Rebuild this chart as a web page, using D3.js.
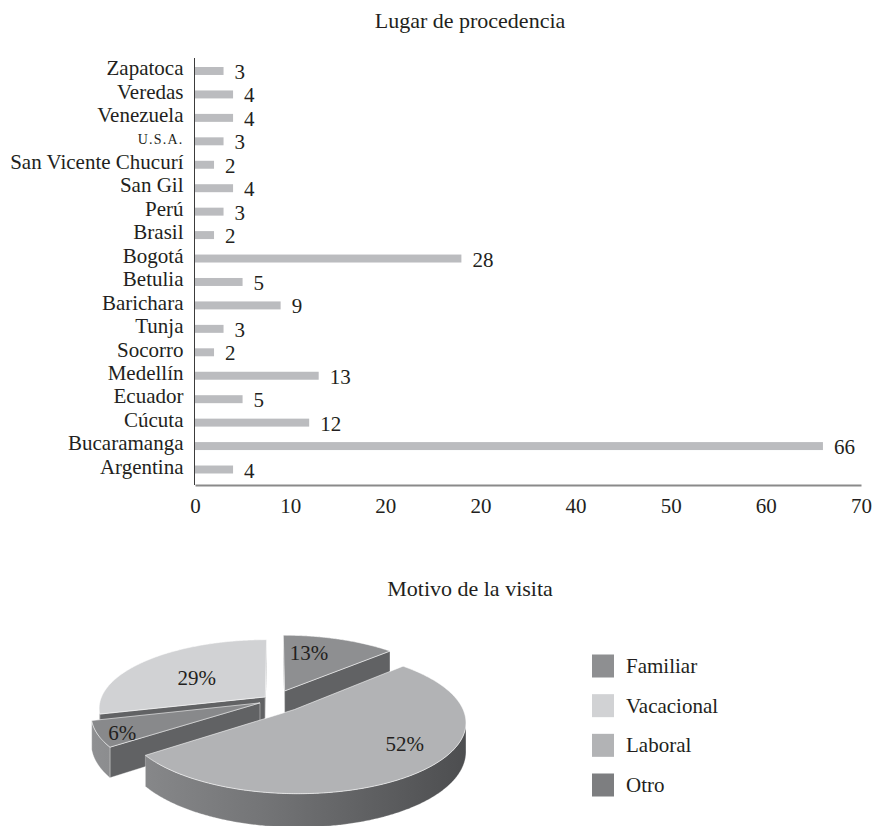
<!DOCTYPE html>
<html>
<head>
<meta charset="utf-8">
<script src="https://cdn.jsdelivr.net/npm/d3@7"></script>
<style>
  html, body { margin: 0; padding: 0; background: #ffffff; }
  svg { display: block; font-family: "Liberation Serif", "Times New Roman", serif; }
</style>
</head>
<body>
<svg id="chart" width="873" height="826"></svg>
<script>
// ---- Lugar de procedencia (bar chart) ----
const places = ["Argentina", "Bucaramanga", "Cúcuta", "Ecuador", "Medellín", "Socorro", "Tunja",
  "Barichara", "Betulia", "Bogotá", "Brasil", "Perú", "San Gil", "San Vicente Chucurí",
  "U.S.A.", "Venezuela", "Veredas", "Zapatoca"];
const visitors = [4, 66, 12, 5, 13, 2, 3, 9, 5, 28, 2, 3, 4, 2, 3, 4, 4, 3];
const xTickValues = [0, 10, 20, 30, 40, 50, 60, 70];
const xTickLabels = ["0", "10", "20", "20", "40", "50", "60", "70"];

// ---- Motivo de la visita (pie chart) ----
const motives = ["Familiar", "Vacacional", "Laboral", "Otro"];
const motiveShares = [13, 29, 52, 6];
// clockwise order of the slices, starting at twelve o'clock
const sliceOrder = ["Familiar", "Laboral", "Otro", "Vacacional"];

const textColor = "#231f20";
const svg = d3.select("#chart");

// ================= bar chart =================
const x = d3.scaleLinear().domain([0, 70]).range([195, 861]);
const y = d3.scaleBand()
  .domain(places.slice().reverse())
  .range([58.8, 481.7])
  .paddingInner(0.66)
  .paddingOuter(0.35);

svg.append("text")
  .attr("x", 470).attr("y", 28)
  .attr("text-anchor", "middle")
  .attr("font-size", 22)
  .attr("fill", textColor)
  .text("Lugar de procedencia");

const rows = places.map((p, i) => ({ place: p, value: visitors[i] }));

svg.append("g").selectAll("rect")
  .data(rows)
  .join("rect")
  .attr("x", x(0))
  .attr("y", d => y(d.place))
  .attr("width", d => x(d.value) - x(0))
  .attr("height", y.bandwidth())
  .attr("fill", "#bbbcbf");

svg.append("g").selectAll("text")
  .data(rows)
  .join("text")
  .attr("x", d => x(d.value) + 11)
  .attr("y", d => y(d.place) + y.bandwidth() / 2 + 8)
  .attr("font-size", 21)
  .attr("fill", textColor)
  .text(d => d.value);

// category axis
const yAxis = svg.append("g")
  .attr("transform", `translate(${x(0) - 0.5},0)`)
  .call(d3.axisLeft(y).tickSize(0).tickPadding(11));
yAxis.select(".domain").attr("stroke", "#3c3c3c").attr("stroke-width", 1)
  .attr("d", `M0,58V485`);
yAxis.selectAll("text")
  .attr("font-family", "Liberation Serif, Times New Roman, serif")
  .attr("font-size", d => d === "U.S.A." ? 14 : 21)
  .attr("letter-spacing", d => d === "U.S.A." ? 1.2 : 0)
  .attr("fill", textColor)
  .attr("dy", "0.2em");

// value axis
const xAxis = svg.append("g")
  .attr("transform", "translate(0,485)")
  .call(d3.axisBottom(x)
    .tickValues(xTickValues)
    .tickFormat((d, i) => xTickLabels[i])
    .tickSize(0)
    .tickPadding(13));
xAxis.select(".domain").attr("stroke", "#8a8a8a").attr("stroke-width", 2);
xAxis.selectAll("text")
  .attr("font-family", "Liberation Serif, Times New Roman, serif")
  .attr("font-size", 21)
  .attr("fill", textColor);

// ================= 3D pie =================
svg.append("text")
  .attr("x", 470).attr("y", 596)
  .attr("text-anchor", "middle")
  .attr("font-size", 22)
  .attr("fill", textColor)
  .text("Motivo de la visita");

const topColor = { Familiar: "#8e8f91", Vacacional: "#d1d2d4", Laboral: "#b2b3b5", Otro: "#88898b" };
const legendColor = { Familiar: "#8e8f91", Vacacional: "#d1d2d4", Laboral: "#b2b3b5", Otro: "#7d7e80" };
const explode = { Familiar: 0.15, Laboral: 0.18, Otro: 0.10, Vacacional: 0.075 };
// label placement: radius and fraction of the slice's sweep
const labelAt = { Familiar: [0.67, 0.32], Laboral: [0.75, 0.43], Otro: [0.87, 0.37], Vacacional: [0.53, 0.46] };

// perspective projection of the unit disc (X right, Z toward viewer, Y=0 top / 1 bottom)
const P = { cx: 275, cy: 700, S: 165, SY: 67.3, HY: 27.5, D: 6.26 };
function proj(X, Z, Y) {
  const k = P.D / (P.D - Z);
  return [P.cx + X * P.S * k, P.cy + Z * P.SY * k + Y * P.HY * k];
}

const shareOf = Object.fromEntries(motives.map((m, i) => [m, motiveShares[i]]));
const pieData = d3.pie().sort(null).value(d => shareOf[d])(sliceOrder);

const defs = svg.append("defs");
const grad = defs.append("linearGradient")
  .attr("id", "sideGrad").attr("gradientUnits", "userSpaceOnUse")
  .attr("x1", 90).attr("y1", 0).attr("x2", 470).attr("y2", 0);
grad.append("stop").attr("offset", "0%").attr("stop-color", "#8f9092");
grad.append("stop").attr("offset", "45%").attr("stop-color", "#747577");
grad.append("stop").attr("offset", "100%").attr("stop-color", "#4c4d4f");

const line = d3.line();
const pieG = svg.append("g");
const step = Math.PI / 360;

const slices = pieData.map(p => {
  const name = p.data;
  const a = p.startAngle, b = p.endAngle, m = (a + b) / 2;
  const e = explode[name];
  const ox = e * Math.sin(m), oz = -e * Math.cos(m);
  return { name, a, b, m, ox, oz, depth: oz - Math.cos(m) };
});
slices.sort((s, t) => s.depth - t.depth);

slices.forEach(s => {
  const { a, b, ox, oz } = s;
  const rim = (t, Y) => proj(ox + Math.sin(t), oz - Math.cos(t), Y);
  const apex = Y => proj(ox, oz, Y);
  const g = pieG.append("g");

  // radial cut faces
  [[a, -Math.cos(a), -Math.sin(a)], [b, Math.cos(b), Math.sin(b)]].forEach(([t, nx, nz]) => {
    const px = ox + 0.5 * Math.sin(t), pz = oz - 0.5 * Math.cos(t);
    if (nx * (-px) + nz * (P.D - pz) > 0) {
      g.append("path")
        .attr("d", line([apex(0), rim(t, 0), rim(t, 1), apex(1)]) + "Z")
        .attr("fill", "#616264")
        .attr("stroke", "rgba(255,255,255,0.55)").attr("stroke-width", 0.7);
    }
  });

  // outer curved wall, only the part turned toward the viewer
  const angles = d3.range(a, b, step).concat([b]);
  let run = [];
  const runs = [];
  angles.forEach(t => {
    const X = ox + Math.sin(t), Z = oz - Math.cos(t);
    const vis = -X * Math.sin(t) - (P.D - Z) * Math.cos(t);
    if (vis > 0) run.push(t);
    else if (run.length) { runs.push(run); run = []; }
  });
  if (run.length) runs.push(run);
  runs.forEach(r => {
    const pts = r.map(t => rim(t, 0)).concat(r.slice().reverse().map(t => rim(t, 1)));
    g.append("path")
      .attr("d", line(pts) + "Z")
      .attr("fill", "url(#sideGrad)")
      .attr("stroke", "rgba(255,255,255,0.45)").attr("stroke-width", 0.6);
  });

  // top face
  const topPts = [apex(0)].concat(angles.map(t => rim(t, 0)));
  g.append("path")
    .attr("d", line(topPts) + "Z")
    .attr("fill", topColor[s.name])
    .attr("stroke", "rgba(255,255,255,0.7)").attr("stroke-width", 0.8);
});

// percentage labels
pieG.append("g").selectAll("text")
  .data(slices)
  .join("text")
  .attr("transform", s => {
    const [r, f] = labelAt[s.name];
    const t = s.a + f * (s.b - s.a);
    const [lx, ly] = proj(s.ox + r * Math.sin(t), s.oz - r * Math.cos(t), 0);
    return `translate(${lx},${ly})`;
  })
  .attr("text-anchor", "middle")
  .attr("dy", "0.33em")
  .attr("font-size", 21)
  .attr("fill", textColor)
  .text(s => shareOf[s.name] + "%");

// legend
const ly = d3.scalePoint().domain(motives).range([666, 785]);
const legend = svg.append("g").selectAll("g")
  .data(motives)
  .join("g")
  .attr("transform", d => `translate(592,${ly(d)})`);
legend.append("rect")
  .attr("x", 0).attr("y", -11.5)
  .attr("width", 22).attr("height", 23)
  .attr("fill", d => legendColor[d]);
legend.append("text")
  .attr("x", 34).attr("y", 7)
  .attr("font-size", 21)
  .attr("fill", textColor)
  .text(d => d);
</script>
</body>
</html>
